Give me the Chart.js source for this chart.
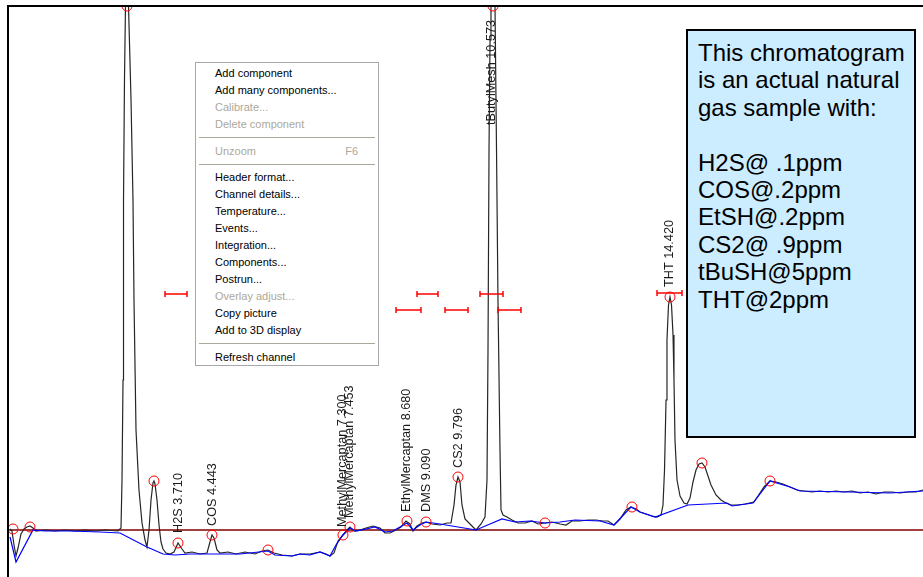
<!DOCTYPE html>
<html>
<head>
<meta charset="utf-8">
<script src="https://cdn.jsdelivr.net/npm/chart.js@4.4.0/dist/chart.umd.min.js"></script>
<style>
body{margin:0;background:#fff;}
#wrap{position:relative;width:923px;height:577px;overflow:hidden;font-family:"Liberation Sans",Arial,sans-serif;}
#chromato{position:absolute;left:0;top:0;}
#menu{position:absolute;left:195px;top:62px;width:184px;height:304px;box-sizing:border-box;border:1px solid #a7a6aa;background:#fff;padding-top:2px;font-size:11px;}
.item{height:17px;line-height:17px;padding-left:19px;color:#000;position:relative;white-space:nowrap;}
.item.off{color:#aca899;}
.item span{position:absolute;right:20px;top:0;}
.sep{height:1px;background:#aca899;margin:4px 3px 4.5px 3px;}
#note{position:absolute;left:686px;top:29px;width:230px;height:409px;box-sizing:border-box;border:2px solid #000;background:rgb(204,236,255);padding:8px 0 0 10px;font-size:24px;line-height:27.4px;color:#000;white-space:pre;}
</style>
</head>
<body>
<div id="wrap">
<canvas id="chromato" width="923" height="577"></canvas>
<div id="menu">
<div class="item">Add component</div>
<div class="item">Add many components...</div>
<div class="item off">Calibrate...</div>
<div class="item off">Delete component</div>
<div class="sep"></div>
<div class="item off">Unzoom<span>F6</span></div>
<div class="sep"></div>
<div class="item">Header format...</div>
<div class="item">Channel details...</div>
<div class="item">Temperature...</div>
<div class="item">Events...</div>
<div class="item">Integration...</div>
<div class="item">Components...</div>
<div class="item">Postrun...</div>
<div class="item off">Overlay adjust...</div>
<div class="item">Copy picture</div>
<div class="item">Add to 3D display</div>
<div class="sep"></div>
<div class="item">Refresh channel</div>
</div>
<div id="note">This chromatogram
is an actual natural
gas sample with:

H2S@ .1ppm
COS@.2ppm
EtSH@.2ppm
CS2@ .9ppm
tBuSH@5ppm
THT@2ppm</div>
</div>
<script>
// retention time (min) / detector signal
let signalTime = [0.044,0.087,0.131,0.175,0.219,0.284,0.350,0.415,0.481,0.546,0.612,0.809,1.027,1.246,1.464,1.683,1.902,2.120,2.404,2.470,2.492,2.514,2.525,2.546,2.568,2.601,2.634,2.689,2.732,2.754,2.798,2.863,2.929,2.995,3.038,3.082,3.126,3.169,3.191,3.213,3.257,3.301,3.344,3.388,3.454,3.541,3.628,3.716,3.803,3.869,4.022,4.197,4.350,4.415,4.459,4.503,4.568,4.634,4.809,4.984,5.180,5.399,5.552,5.683,5.814,5.989,6.208,6.383,6.601,6.820,6.951,7.038,7.126,7.213,7.322,7.410,7.475,7.563,7.694,7.825,7.978,8.131,8.240,8.350,8.481,8.590,8.699,8.787,8.852,8.940,9.049,9.137,9.268,9.443,9.596,9.683,9.749,9.792,9.836,9.880,9.923,9.989,10.098,10.230,10.339,10.426,10.470,10.492,10.514,10.536,10.557,10.601,10.645,10.678,10.710,10.754,10.776,10.820,10.907,11.016,11.148,11.301,11.454,11.585,11.738,11.891,12.066,12.197,12.328,12.503,12.678,12.852,13.005,13.115,13.246,13.377,13.508,13.617,13.727,13.814,13.945,14.077,14.186,14.273,14.317,14.350,14.383,14.404,14.437,14.470,14.503,14.536,14.557,14.579,14.623,14.689,14.776,14.842,14.907,14.973,15.038,15.104,15.169,15.235,15.301,15.366,15.475,15.585,15.694,15.803,15.956,16.109,16.306,16.393,16.525,16.656,16.787,16.940,17.093,17.246,17.399,17.574,17.749,17.923,18.098,18.273,18.448,18.623,18.798,18.973,19.148,19.322,19.497,19.672,19.847,20.0];
let signalValue = [1,-1,-15,-26,-18,-4,1,3,4,2,-1,0,-1,0,-1,0,-1,0,-1,2,50,150,330,450,524,600,524,430,330,230,100,40,7,-10,-17,0,30,47,49,46,30,5,-12,-19,-23,-24,-22,-13,-19,-23,-22,-24,-23,-12,-5,-8,-20,-23,-22,-24,-22,-24,-21,-20,-23,-25,-26,-24,-24,-22,-24,-26,-23,-11,-5,0,3,-1,0,2,4,2,-3,-3,0,3,9,6,-1,4,7,8,6,5,7,7,25,45,53,48,25,11,6,0,6,13,50,180,380,490,524,620,524,380,230,80,20,15,13,10,7,7,9,6,7,8,6,5,9,9,10,10,9,9,5,11,20,23,21,18,16,14,13,15,25,60,130,190,225,233,225,195,150,90,50,34,27,26,32,48,60,66,67,63,54,45,35,30,27,25,25,26,28,34,43,49,48,46,43,40,39,38,39,38,39,38,39,37,38,36,38,38,37,38,38,40];

let baseTime = [0.044,0.175,0.546,0.809,1.355,2.011,2.448,3.038,3.388,3.650,3.978,4.415,5.071,5.683,5.836,6.208,6.383,6.601,6.820,7.038,7.169,7.322,7.475,7.607,7.825,8.022,8.240,8.415,8.568,8.721,8.852,9.005,9.137,9.443,9.705,10.230,10.536,10.798,11.082,11.410,11.738,12.066,12.393,12.940,13.246,13.617,13.814,14.142,14.864,15.716,15.825,16.284,16.656,17.093,17.311,18.404,19.279,20.0];
let baseValue = [-7,-32,0,-1,-1,-2,-3,-17,-24,-25,-24,-24,-24,-21,-25,-26,-24,-25,-22,-26,-15,-5,2,-1,1,3,-2,-1,3,7,0,5,8,6,4,0,6,11,8,9,7,8,10,9,5,23,18,13,25,27,24,27,49,43,39,38,37,39];

let peakTime = [0.109,0.481,2.601,3.191,3.716,4.459,5.683,7.322,7.475,8.721,9.137,9.836,10.601,11.738,13.639,14.470,15.169,16.656];
let peakValue = [1,3,524,49,-13,-5,-20,-5,3,9,8,53,524,7,23,233,67,49];

let peakNames = ['H2S 3.710','COS 4.443','MethylMercaptan 7.300','MethylMercaptan 7.453','EthylMercaptan 8.680','DMS 9.090','CS2 9.796','tButylMesh 10.573','THT 14.420'];
let nameTime = [3.716,4.459,7.322,7.475,8.721,9.137,9.836,10.579,14.448];
let nameValue = [-3,4,3,12,18,18,62,405,243];

let windowStart = [3.432,8.940,10.317,8.481,9.552,10.710,14.186];
let windowEnd = [3.913,9.399,10.820,9.027,10.055,11.213,14.732];
let windowLevel = [236,236,236,220,220,220,237];

let zeroLevel = 0;

const framePlugin = {
    id:'frame',
    afterDraw(chart){
        const ctx = chart.ctx;
        const a = chart.chartArea;
        ctx.save();
        ctx.strokeStyle = '#000';
        ctx.lineWidth = 2;
        ctx.beginPath();
        ctx.moveTo(a.left, a.bottom);
        ctx.lineTo(a.left, a.top);
        ctx.lineTo(a.right, a.top);
        ctx.stroke();
        ctx.restore();
    }
};

const namePlugin = {
    id:'peakNames',
    afterDatasetsDraw(chart){
        const ctx = chart.ctx;
        ctx.save();
        ctx.fillStyle = '#1a1a1a';
        ctx.font = '12.7px "Liberation Sans", Arial, sans-serif';
        ctx.textAlign = 'left';
        ctx.textBaseline = 'middle';
        for ( let i = 0 ; i < peakNames.length ; i++){
            const x = chart.scales.x.getPixelForValue(nameTime[i]);
            const y = chart.scales.y.getPixelForValue(nameValue[i]);
            ctx.save();
            ctx.translate(x, y);
            ctx.rotate(-Math.PI / 2);
            ctx.fillText(peakNames[i], 0, 0);
            ctx.restore();
        }
        ctx.restore();
    }
};

let signalData = signalTime.map((t, i) => ({x:t, y:signalValue[i]}));
let baseData = baseTime.map((t, i) => ({x:t, y:baseValue[i]}));
let peakData = peakTime.map((t, i) => ({x:t, y:peakValue[i]}));

let datasets = [
    {
        data:peakData,
        showLine:false,
        pointStyle:'circle',
        pointRadius:5,
        pointBorderColor:'#ff0000',
        pointBackgroundColor:'rgba(0,0,0,0)',
        pointBorderWidth:1,
        order:0
    },
    {
        data:baseData,
        borderColor:'#0000ff',
        borderWidth:1.2,
        pointRadius:0,
        tension:0,
        order:2
    },
    {
        data:signalData,
        borderColor:'#262626',
        borderWidth:1.2,
        pointRadius:0,
        tension:0,
        order:3
    },
    {
        data:[{x:0, y:zeroLevel}, {x:20, y:zeroLevel}],
        borderColor:'#800000',
        borderWidth:1.5,
        pointRadius:0,
        order:4
    }
];
for ( let i = 0 ; i < windowStart.length ; i++){
    datasets.push({
        data:[{x:windowStart[i], y:windowLevel[i]}, {x:windowEnd[i], y:windowLevel[i]}],
        borderColor:'#ff0000',
        borderWidth:1.5,
        pointStyle:'line',
        rotation:90,
        pointRadius:3,
        pointBorderColor:'#ff0000',
        pointBorderWidth:1.5,
        order:1
    });
}

new Chart('chromato', {
    type:'line',
    data:{datasets:datasets},
    options:{
        responsive:false,
        animation:false,
        events:[],
        layout:{autoPadding:false, padding:{left:8, top:6, right:0, bottom:0}},
        plugins:{legend:{display:false}, tooltip:{enabled:false}},
        scales:{
            x:{type:'linear', min:0, max:20, display:false},
            y:{min:-47, max:524, display:false}
        }
    },
    plugins:[framePlugin, namePlugin]
});
</script>
</body>
</html>
